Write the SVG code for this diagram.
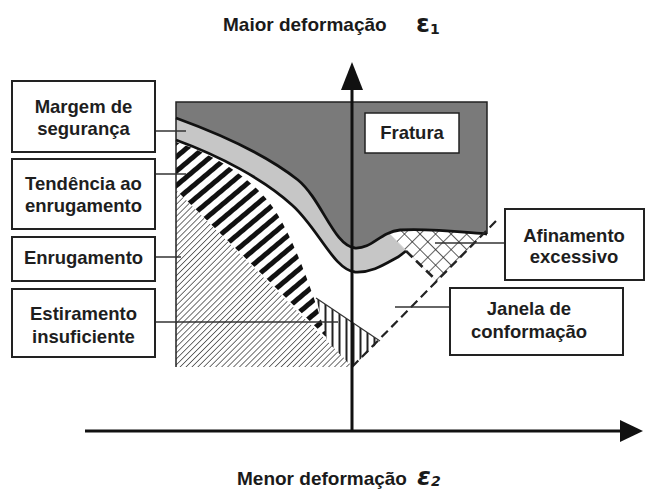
<svg xmlns="http://www.w3.org/2000/svg" width="646" height="492" viewBox="0 0 646 492">
<defs>
<style>
.box{fill:#fff;stroke:#222;stroke-width:2}
.t{font-family:"Liberation Sans",Arial,sans-serif;font-weight:bold;font-size:18.5px;fill:#1e1e1e;text-anchor:middle}
.ax{font-family:"Liberation Sans",Arial,sans-serif;font-weight:bold;font-size:19px;fill:#1a1a1a}
.eps{font-family:"DejaVu Sans","Liberation Sans",sans-serif;font-weight:bold;font-size:25px;fill:#1a1a1a}
.sub{font-size:14px}
.lead{stroke:#333;stroke-width:1.5;fill:none}
.curve{fill:none;stroke:#111;stroke-width:2.8}
.dash{fill:none;stroke:#222;stroke-width:2.2;stroke-dasharray:9 5}
</style>
<pattern id="fine" width="4.2" height="4.2" patternUnits="userSpaceOnUse" patternTransform="rotate(45)"><line x1="0" y1="0" x2="0" y2="4.2" stroke="#333" stroke-width="1.4"/></pattern>
<pattern id="bars" width="11" height="11" patternUnits="userSpaceOnUse" patternTransform="rotate(-40)"><rect x="0" y="0" width="11" height="5" fill="#111"/></pattern>
<pattern id="vert" width="7" height="7" patternUnits="userSpaceOnUse"><line x1="3.5" y1="0" x2="3.5" y2="7" stroke="#222" stroke-width="2"/></pattern>
<pattern id="cross" width="11" height="11" patternUnits="userSpaceOnUse" patternTransform="rotate(45)"><path d="M0,0 H11 M0,0 V11" stroke="#222" stroke-width="1.4" fill="none"/></pattern>
</defs>
<rect width="646" height="492" fill="#fff"/>

<g id="regions">
<path id="enrugamento-area" d="M176,190 L353,367 L176,367 Z" fill="url(#fine)"/>
<path id="tendencia-area" d="M176,142 C215,155 260,180 282,222 C300,255 315,300 327,338 L176,190 Z" fill="url(#bars)"/>
<path id="estiramento-area" d="M316,298 L380,341 L352,367 L327,341 Z" fill="url(#vert)"/>
<path d="M316,298 L380,341" stroke="#333" stroke-width="1.2" fill="none"/>
<path id="margem-area" d="M176,105 L370,105 L370,215 L406,251 L398,257 C385,264 372,273 355,272 C334,270 318,228 292,205 C265,180 220,156 176,140 Z" fill="#c6c6c6"/>
<path id="afinamento-area" d="M370,215 L487,215 L487,230 L437,281 Z" fill="url(#cross)"/>
<path id="fratura-area" d="M176,102 H487 V234 C470,233 430,228 400,230 C380,232 372,249 355,248 C334,246 322,200 298,180 C268,156 220,134 176,118 Z" fill="#7a7a7a"/>
<path d="M176,367 V102 H487 V234" fill="none" stroke="#222" stroke-width="1.5"/>
<path class="curve" d="M176,118 C220,134 268,156 298,180 C322,200 334,246 355,248 C372,249 380,232 400,230 C430,228 470,233 487,234"/>
<path class="curve" d="M176,140 C220,156 265,180 292,205 C318,228 334,270 355,272 C372,273 385,264 398,257 L406,251"/>
<path class="dash" d="M406,251 L437,281" style="stroke-width:2.6"/>
<path class="dash" d="M352,367 L497,220"/>
</g>

<g id="axes">
<line x1="352" y1="88" x2="352" y2="432" stroke="#111" stroke-width="3"/>
<polygon points="352,62 341,90 363,90" fill="#111"/>
<line x1="85" y1="431" x2="624" y2="431" stroke="#111" stroke-width="3"/>
<polygon points="643,431 620,420 620,442" fill="#111"/>
</g>

<g id="connectors">
<path class="lead" d="M155,131 H186"/>
<path class="lead" d="M155,174 H186"/>
<path class="lead" d="M155,257 H181"/>
<path class="lead" d="M155,322 H338"/>
<path class="lead" d="M435,243 H505"/>
<path class="lead" d="M395,307 H450"/>
</g>

<g id="node-margem">
<rect class="box" x="12" y="81" width="143" height="71"/>
<text class="t" x="83.5" y="113">Margem de</text>
<text class="t" x="83.5" y="135">segurança</text>
</g>
<g id="node-tendencia">
<rect class="box" x="12" y="159" width="143" height="70"/>
<text class="t" x="83.5" y="190">Tendência ao</text>
<text class="t" x="83.5" y="212">enrugamento</text>
</g>
<g id="node-enrugamento">
<rect class="box" x="12" y="237" width="143" height="44"/>
<text class="t" x="83.5" y="264">Enrugamento</text>
</g>
<g id="node-estiramento">
<rect class="box" x="12" y="289" width="143" height="68"/>
<text class="t" x="83.5" y="320">Estiramento</text>
<text class="t" x="83.5" y="343">insuficiente</text>
</g>
<g id="node-fratura">
<rect class="box" x="365" y="113" width="94" height="40" style="stroke-width:1.5"/>
<text class="t" x="412" y="139">Fratura</text>
</g>
<g id="node-afinamento">
<rect class="box" x="505" y="209" width="139" height="71"/>
<text class="t" x="574" y="242">Afinamento</text>
<text class="t" x="574" y="263">excessivo</text>
</g>
<g id="node-janela">
<rect class="box" x="450" y="288" width="173" height="67"/>
<text class="t" x="529" y="315">Janela de</text>
<text class="t" x="529" y="338">conformação</text>
</g>

<g id="labels">
<text class="ax" x="223" y="31">Maior deformação</text>
<text class="eps" x="416" y="32">ε<tspan class="sub" dy="2">1</tspan></text>
<text class="ax" x="237" y="485">Menor deformação</text>
<text class="eps" x="417" y="485" font-style="italic">ε<tspan class="sub" dy="1">2</tspan></text>
</g>
</svg>
